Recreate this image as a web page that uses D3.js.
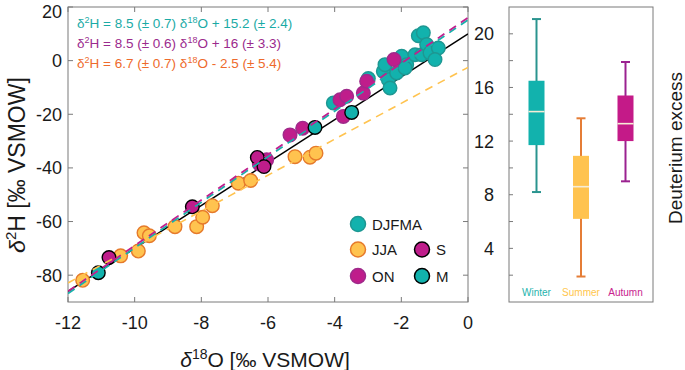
<!DOCTYPE html>
<html>
<head>
<meta charset="utf-8">
<script src="https://cdn.jsdelivr.net/npm/d3@7"></script>
<style>
  html, body { margin: 0; padding: 0; background: #fff; }
  svg { display: block; font-family: "Liberation Sans", Arial, sans-serif; }
</style>
</head>
<body>
<svg id="chart" width="685" height="370"></svg>
<script>
// δ18O / δ2H scatter + deuterium-excess boxplot
const X_TICKS = [-12, -10, -8, -6, -4, -2, 0];
const Y_TICKS = [-80, -60, -40, -20, 0, 20];

// [δ18O, δ2H]
const DJFMA = [[-4.04,-15.8],[-2.99,-6.7],[-2.54,-4.0],[-2.49,-1.5],[-2.39,-7.1],[-2.34,-10.2],[-2.14,-4.6],
  [-1.99,1.6],[-1.84,-1.5],[-1.89,-2.7],[-1.59,2.2],[-1.39,2.2],[-1.49,9.3],[-1.34,10.4],[-1.24,6.0],
  [-1.14,2.9],[-0.89,4.7],[-0.99,0.4]];
const JJA = [[-11.56,-81.9],[-10.42,-72.8],[-9.89,-71.0],[-9.72,-64.2],[-9.56,-65.3],[-8.79,-61.9],
  [-8.14,-61.9],[-7.96,-58.4],[-7.67,-54.1],[-6.89,-45.7],[-6.52,-44.7],[-5.19,-35.8],[-4.74,-36.0],[-4.56,-34.5]];
const ON = [[-6.26,-38.5],[-6.04,-37.0],[-5.34,-27.7],[-4.96,-25.2],[-3.84,-14.6],[-3.64,-13.3],
  [-3.74,-20.8],[-3.14,-12.1],[-3.04,-7.7],[-2.22,0.4]];
const S = [[-10.77,-73.4],[-8.27,-54.5],[-6.32,-36.1],[-6.12,-39.5]];
const M = [[-11.09,-79.1],[-4.59,-24.9],[-3.49,-19.3]];

// regression lines: [slope, intercept]
const GMWL = [8, 10];
const FIT_DJFMA = [8.5, 15.2];
const FIT_ON = [8.5, 16];
const FIT_JJA = [6.7, -2.5];

const EQUATIONS = [
  { pre: "δ", sup1: "2", mid: "H = 8.5 (± 0.7) δ", sup2: "18", post: "O + 15.2 (± 2.4)", col: "#1aaaa5" },
  { pre: "δ", sup1: "2", mid: "H = 8.5 (± 0.6) δ", sup2: "18", post: "O + 16 (± 3.3)", col: "#9b2a8d" },
  { pre: "δ", sup1: "2", mid: "H = 6.7 (± 0.7) δ", sup2: "18", post: "O - 2.5 (± 5.4)", col: "#ee6a2c" },
];

// boxplot (deuterium excess): whisker low, q1, median, q3, whisker high
const SEASONS = ["Winter", "Summer", "Autumn"];
const BOX_STATS = [
  [8.2, 11.7, 14.2, 16.5, 21.1],
  [1.9, 6.2, 8.6, 10.9, 13.7],
  [9.0, 12.0, 13.3, 15.4, 17.9],
];
const DX_TICKS = [4, 8, 12, 16, 20];
const DX_MINOR = [2, 6, 10, 14, 18];

const C = {
  teal: "#12b2ad", tealEdge: "#1e9792",
  yel: "#ffc34f", yelEdge: "#e67a2b",
  mag: "#bf1d8b", magEdge: "#9f2a8b",
  axis: "#7a7a7a", ink: "#1a1a1a",
};
const BOX_FILL = [C.teal, C.yel, "#c41a88"];
const BOX_WHISK = ["#2a948f", "#e57d36", "#9b2290"];
const LABEL_COL = ["#1db3ad", "#ffc64d", "#c8238e"];

const svg = d3.select("#chart");

// ── scatter panel ──
const L = 68, R = 468, T = 7, B = 302;
const x = d3.scaleLinear().domain([-12, 0]).range([L, R]);
const y = d3.scaleLinear().domain([-90, 20]).range([B, T]);

svg.append("defs").append("clipPath").attr("id", "clipS")
  .append("rect").attr("x", L).attr("y", T).attr("width", R - L).attr("height", B - T);

const tk = 5;
const ax = svg.append("g");
ax.append("rect").attr("x", L).attr("y", T).attr("width", R - L).attr("height", B - T)
  .attr("fill", "none").attr("stroke", C.axis).attr("stroke-width", 1);
X_TICKS.forEach(v => {
  ax.append("line").attr("x1", x(v)).attr("x2", x(v)).attr("y1", B).attr("y2", B - tk).attr("stroke", C.axis);
  ax.append("line").attr("x1", x(v)).attr("x2", x(v)).attr("y1", T).attr("y2", T + tk).attr("stroke", C.axis);
  ax.append("text").attr("x", x(v)).attr("y", 329).attr("text-anchor", "middle")
    .attr("style", `font-size:18px;fill:${C.ink}`).text(v);
});
Y_TICKS.forEach(v => {
  ax.append("line").attr("x1", L).attr("x2", L + tk).attr("y1", y(v)).attr("y2", y(v)).attr("stroke", C.axis);
  ax.append("line").attr("x1", R).attr("x2", R - tk).attr("y1", y(v)).attr("y2", y(v)).attr("stroke", C.axis);
  // top label sits lower so it stays inside the picture
  ax.append("text").attr("x", 62).attr("y", Math.max(y(v) + 6.5, 17.5)).attr("text-anchor", "end")
    .attr("style", `font-size:18px;fill:${C.ink}`).text(v);
});

// axis titles
const xl = svg.append("text").attr("x", 265).attr("y", 367).attr("text-anchor", "middle")
  .attr("style", `font-size:21px;fill:${C.ink}`);
xl.append("tspan").attr("font-style", "italic").text("δ");
xl.append("tspan").attr("dy", -8).attr("font-size", 14).text("18");
xl.append("tspan").attr("dy", 8).text("O [‰ VSMOW]");

const yl = svg.append("text").attr("transform", "translate(25,165) rotate(-90)").attr("text-anchor", "middle")
  .attr("style", `font-size:23px;fill:${C.ink}`);
yl.append("tspan").attr("font-style", "italic").text("δ");
yl.append("tspan").attr("dy", -9).attr("font-size", 15).text("2");
yl.append("tspan").attr("dy", 9).text("H [‰ VSMOW]");

// points
const pg = svg.append("g").attr("clip-path", "url(#clipS)");
const line = ([m, b]) => d3.line()(X_TICKS.filter((_, i) => i === 0 || i === X_TICKS.length - 1).map(v => [x(v), y(m * v + b)]));
pg.append("path").attr("d", line(GMWL)).attr("stroke", "#000").attr("stroke-width", 1.5).attr("fill", "none");

const R_PT = 6.8;
function dots(data, fill, edge) {
  pg.append("g").selectAll("circle").data(data).join("circle")
    .attr("cx", d => x(d[0])).attr("cy", d => y(d[1])).attr("r", R_PT)
    .attr("fill", fill).attr("stroke", edge).attr("stroke-width", 1.4);
}
dots(DJFMA, C.teal, C.tealEdge);
dots(JJA, C.yel, C.yelEdge);
dots(ON, C.mag, C.magEdge);
dots(S, C.mag, "#000");
dots(M, C.teal, "#000");

pg.append("path").attr("d", line(FIT_JJA)).attr("stroke", C.yel).attr("stroke-width", 1.6)
  .attr("stroke-dasharray", "8,6").attr("fill", "none");
pg.append("path").attr("d", line(FIT_DJFMA)).attr("stroke", "#1ab0ab").attr("stroke-width", 1.8)
  .attr("stroke-dasharray", "8,6").attr("fill", "none");
pg.append("path").attr("d", line(FIT_ON)).attr("stroke", "#c0208e").attr("stroke-width", 1.8)
  .attr("stroke-dasharray", "8,6").attr("fill", "none");

// equations
EQUATIONS.forEach((e, i) => {
  const t = svg.append("text").attr("x", 77).attr("y", 28 + i * 20)
    .attr("style", `font-size:13.5px;fill:${e.col}`);
  t.append("tspan").text(e.pre);
  t.append("tspan").attr("dy", -5).attr("font-size", 9).text(e.sup1);
  t.append("tspan").attr("dy", 5).text(e.mid);
  t.append("tspan").attr("dy", -5).attr("font-size", 9).text(e.sup2);
  t.append("tspan").attr("dy", 5).text(e.post);
});

// legend
const LEG = [
  { name: "DJFMA", fill: C.teal, edge: C.tealEdge, cx: 358, cy: 224 },
  { name: "JJA", fill: C.yel, edge: C.yelEdge, cx: 358, cy: 249.5 },
  { name: "ON", fill: C.mag, edge: C.magEdge, cx: 358, cy: 276 },
  { name: "S", fill: C.mag, edge: "#000", cx: 422, cy: 249.5 },
  { name: "M", fill: C.teal, edge: "#000", cx: 422, cy: 276 },
];
const lg = svg.append("g");
LEG.forEach(d => {
  lg.append("circle").attr("cx", d.cx).attr("cy", d.cy).attr("r", 7.5)
    .attr("fill", d.fill).attr("stroke", d.edge).attr("stroke-width", 1.5);
  lg.append("text").attr("x", d.cx + 14).attr("y", d.cy + 5.5)
    .attr("style", `font-size:15px;fill:${C.ink}`).text(d.name);
});

// ── boxplot panel ──
const BL = 509, BR = 653;
const bx = d3.scalePoint().domain(SEASONS).range([BL, BR]).padding(0.618);
const by = d3.scaleLinear().domain([0, 22]).range([B, T]);
const bg = svg.append("g");
bg.append("rect").attr("x", BL).attr("y", T).attr("width", BR - BL).attr("height", B - T)
  .attr("fill", "none").attr("stroke", C.axis);
DX_TICKS.forEach(v => {
  bg.append("line").attr("x1", BL).attr("x2", BL + 4).attr("y1", by(v)).attr("y2", by(v)).attr("stroke", C.axis);
  bg.append("text").attr("x", 494).attr("y", by(v) + 6.5).attr("text-anchor", "end")
    .attr("style", `font-size:18px;fill:${C.ink}`).text(v);
});
DX_MINOR.forEach(v => {
  bg.append("line").attr("x1", BL).attr("x2", BL + 4).attr("y1", by(v)).attr("y2", by(v)).attr("stroke", C.axis);
});
const BW = 16, CAP = 9;
SEASONS.forEach((s, i) => {
  const [lo, q1, md, q3, hi] = BOX_STATS[i];
  const cx = bx(s);
  const g = bg.append("g");
  g.append("line").attr("x1", cx).attr("x2", cx).attr("y1", by(hi)).attr("y2", by(lo))
    .attr("stroke", BOX_WHISK[i]).attr("stroke-width", 2);
  [lo, hi].forEach(v => g.append("line").attr("x1", cx - CAP / 2).attr("x2", cx + CAP / 2)
    .attr("y1", by(v)).attr("y2", by(v)).attr("stroke", BOX_WHISK[i]).attr("stroke-width", 2));
  g.append("rect").attr("x", cx - BW / 2).attr("width", BW).attr("y", by(q3)).attr("height", by(q1) - by(q3))
    .attr("fill", BOX_FILL[i]);
  g.append("line").attr("x1", cx - BW / 2).attr("x2", cx + BW / 2).attr("y1", by(md)).attr("y2", by(md))
    .attr("stroke", "#f6ecd6").attr("stroke-width", 1.6);
  g.append("text").attr("x", cx).attr("y", 296).attr("text-anchor", "middle")
    .attr("style", `font-size:10px;fill:${LABEL_COL[i]}`).text(s);
});
svg.append("text").attr("transform", "translate(682,148) rotate(-90)").attr("text-anchor", "middle")
  .attr("style", `font-size:19px;fill:${C.ink}`).text("Deuterium excess");
</script>
</body>
</html>
